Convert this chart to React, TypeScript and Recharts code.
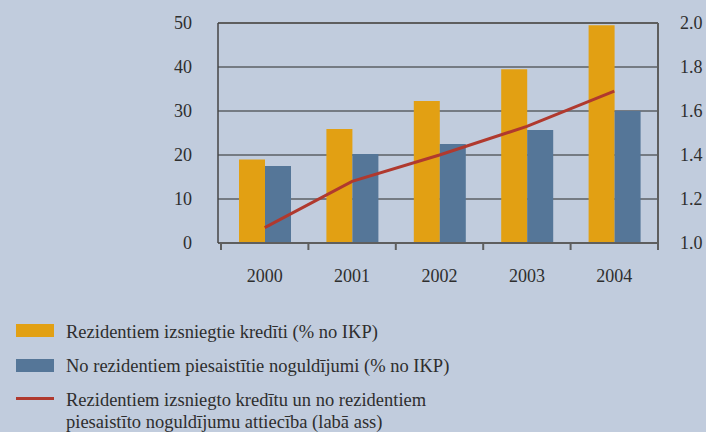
import React from 'react';
import {
  ComposedChart,
  Bar,
  Line,
  XAxis,
  YAxis,
  CartesianGrid,
  ReferenceLine,
} from 'recharts';

// Chart values
const years = ['2000', '2001', '2002', '2003', '2004'];
const credits = [19, 25.9, 32.3, 39.5, 49.5]; // % of GDP
const deposits = [17.5, 20.2, 22.5, 25.7, 30]; // % of GDP
const ratio = [1.07, 1.28, 1.4, 1.53, 1.69]; // right axis
const leftTicks = [0, 10, 20, 30, 40, 50];
const rightTicks = [1.0, 1.2, 1.4, 1.6, 1.8, 2.0];

const legendLabels = [
  'Rezidentiem izsniegtie kredīti (% no IKP)',
  'No rezidentiem piesaistītie noguldījumi (% no IKP)',
  'Rezidentiem izsniegto kredītu un no rezidentiem piesaistīto noguldījumu attiecība (labā ass)',
];

const COLORS = {
  bg: '#c1ccdd',
  orange: '#e2a013',
  blue: '#557698',
  red: '#b0392e',
  text: '#2e2e2e',
  grid: '#2a2a2a',
  axis: '#5e5e5e',
};

const FONT = '"Liberation Serif", "Times New Roman", serif';
const LABEL_GAP = 26;

const data = years.map((year, i) => ({
  year,
  credits: credits[i],
  deposits: deposits[i],
  ratio: ratio[i],
}));

const tickStyle = { fill: COLORS.text, fontSize: 18, fontFamily: FONT };

// Category tick: label in the middle, small marks at the band edges
function YearTick(props: any) {
  const { x, y, payload, index, visibleTicksCount } = props;
  const half = payload.offset;
  const axisY = y - LABEL_GAP;
  const isLast = index === visibleTicksCount - 1;
  return (
    <g>
      <line x1={x - half} x2={x - half} y1={axisY} y2={axisY + 7} stroke={COLORS.axis} strokeWidth={2} />
      {isLast && (
        <line x1={x + half} x2={x + half} y1={axisY} y2={axisY + 7} stroke={COLORS.axis} strokeWidth={2} />
      )}
      <text x={x} y={y} dy="0.71em" textAnchor="middle" fill={COLORS.text} fontSize={18} fontFamily={FONT}>
        {payload.value}
      </text>
    </g>
  );
}

export default function App() {
  return (
    <div
      style={{
        position: 'absolute',
        left: 0,
        top: 0,
        width: 706,
        height: 432,
        background: COLORS.bg,
        fontFamily: FONT,
        color: COLORS.text,
        overflow: 'hidden',
      }}
    >
      <ComposedChart
        width={706}
        height={300}
        data={data}
        margin={{ top: 23, right: 0, left: 0, bottom: 0 }}
        barGap={0}
        barSize={26}
      >
        <CartesianGrid vertical={false} stroke={COLORS.grid} strokeWidth={1.2} yAxisId="left" />
        <XAxis
          dataKey="year"
          height={57}
          padding={{ left: 3, right: 0 }}
          axisLine={{ stroke: COLORS.axis, strokeWidth: 2 }}
          tickLine={false}
          tickSize={0}
          tickMargin={LABEL_GAP}
          tick={<YearTick />}
          interval={0}
        />
        <YAxis
          yAxisId="left"
          width={218}
          domain={[0, 50]}
          ticks={leftTicks}
          tickLine={false}
          tickSize={0}
          tickMargin={26}
          axisLine={{ stroke: '#454545', strokeWidth: 1.5 }}
          tick={tickStyle}
        />
        <YAxis
          yAxisId="right"
          orientation="right"
          width={48}
          domain={[1, 2]}
          ticks={rightTicks}
          tickFormatter={(v: number) => v.toFixed(1)}
          tickLine={false}
          tickSize={0}
          tickMargin={22}
          axisLine={{ stroke: COLORS.axis, strokeWidth: 2 }}
          tick={tickStyle}
        />
        <ReferenceLine yAxisId="left" y={50} stroke={COLORS.axis} strokeWidth={2} />

        <Bar yAxisId="left" dataKey="credits" fill={COLORS.orange} isAnimationActive={false} />
        <Bar yAxisId="left" dataKey="deposits" fill={COLORS.blue} isAnimationActive={false} />
        <Line
          yAxisId="right"
          dataKey="ratio"
          stroke={COLORS.red}
          strokeWidth={3}
          dot={false}
          type="linear"
          isAnimationActive={false}
        />
      </ComposedChart>

      {/* Legend */}
      <div style={{ position: 'absolute', left: 16, top: 324, width: 38, height: 13, background: COLORS.orange }} />
      <div style={{ position: 'absolute', left: 66, top: 321, fontSize: 18.5, lineHeight: '22px' }}>
        {legendLabels[0]}
      </div>
      <div style={{ position: 'absolute', left: 16, top: 359, width: 38, height: 13, background: COLORS.blue }} />
      <div style={{ position: 'absolute', left: 66, top: 355, fontSize: 18.5, lineHeight: '22px' }}>
        {legendLabels[1]}
      </div>
      <div style={{ position: 'absolute', left: 16, top: 397, width: 38, height: 3, background: COLORS.red }} />
      <div style={{ position: 'absolute', left: 66, top: 389, width: 390, fontSize: 18.5, lineHeight: '22px' }}>
        {legendLabels[2]}
      </div>
    </div>
  );
}
